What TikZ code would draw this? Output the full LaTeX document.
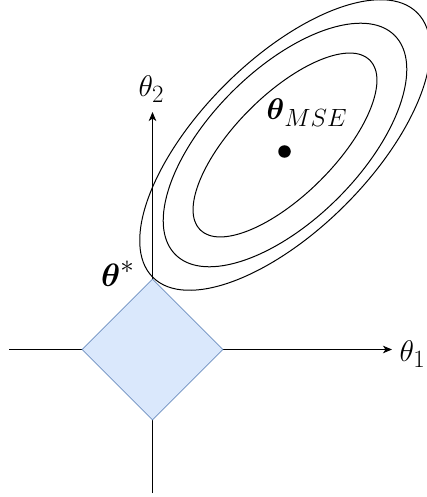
\documentclass[tikz,border=0pt]{standalone}
\usepackage{amsmath}
\usepackage{graphicx}
\usetikzlibrary{arrows.meta,shapes.geometric}
\definecolor{dfill}{HTML}{DAE8FC}
\definecolor{dline}{HTML}{6C8EBF}
\begin{document}
\begin{tikzpicture}[x=1pt,y=-1pt,
  axis/.style={line width=1pt,-{Stealth[length=9pt,width=7.5pt,inset=2.5pt]}},
  ell/.style={line width=1pt,draw=black},
  lbl/.style={inner sep=0pt,font=\Huge},
  regbox/.style={diamond,draw=dline,fill=dfill,line width=0.8pt,inner sep=0pt,minimum width=141pt,minimum height=141pt}]
\useasboundingbox (0,0) rectangle (427,497);
\coordinate (o) at (152.5,349.5);
\coordinate (xl) at (9,349.5);
\coordinate (xr) at (392,349.5);
\coordinate (yb) at (152.5,493);
\coordinate (yt) at (152.5,112);
\draw[axis] (xl) -- (xr);
\draw[axis] (yb) -- (yt);
\node[regbox] (reg) at (o) {};
\coordinate (c) at (285,145);
\draw[ell, rotate around={45:(c)}] (c) ellipse [x radius=187, y radius=85];
\draw[ell, rotate around={45:(c)}] (c) ellipse [x radius=155, y radius=75];
\draw[ell, rotate around={45:(c)}] (c) ellipse [x radius=120, y radius=50];
\node[circle,fill=black,inner sep=0pt,minimum size=12.5pt] (mse) at (284.5,151.5) {};
\node[lbl,anchor=base] (t2) at (151.4,96.5) {\scalebox{1.2}{$\theta_2$}};
\node[lbl,anchor=base west] (t1) at (399.5,361.5) {\scalebox{1.2}{$\theta_1$}};
\node[lbl,anchor=base west] (ts) at (101,286) {\scalebox{1.3}{$\boldsymbol{\theta}^*$}};
\node[lbl,anchor=base west] (tm) at (266.5,120) {\scalebox{1.2}{$\boldsymbol{\theta}_{MSE}$}};
\end{tikzpicture}
\end{document}
